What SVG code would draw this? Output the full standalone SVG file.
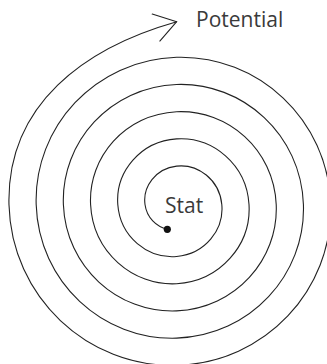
<svg xmlns="http://www.w3.org/2000/svg" width="327" height="364" viewBox="0 0 327 364">
  <style>
    .lbl { font-family: "Open Sans", "Noto Sans", "DejaVu Sans", sans-serif; font-size: 21px; fill: #3a3a3a; }
    .line { fill: none; stroke: #222; stroke-width: 1.1; stroke-linecap: round; stroke-linejoin: round; }
  </style>
  <defs>
    <marker id="arrow" markerUnits="userSpaceOnUse" viewBox="-24 -16 26 32" refX="0" refY="0" markerWidth="26" markerHeight="32" orient="auto" overflow="visible">
      <path d="M -21.5,-14 L 0,0 L -21.5,14" fill="none" stroke="#222" stroke-width="1.1" stroke-linecap="round" stroke-linejoin="round"/>
    </marker>
  </defs>
  <rect width="327" height="364" fill="#ffffff"/>
  <g id="connectors">
    <path class="line" marker-end="url(#arrow)" d="M167.34,229.17
      C156.43,227.0 146.805,217.669 145,204.5
      C142.609,187.047 155.391,168.489 176.6,166.098
      C197.809,163.707 219.412,179.534 221.803,204.5
      C224.194,229.466 205.322,254.114 176.6,256.505
      C147.878,258.896 120.185,236.979 117.794,204.5
      C115.403,172.021 140.365,141.283 176.6,138.892
      C212.835,136.501 246.619,164.508 249.01,204.5
      C251.401,244.492 220.348,281.32 176.6,283.711
      C132.852,286.102 92.978,252.005 90.587,204.5
      C88.196,156.995 125.339,114.077 176.6,111.686
      C227.861,109.295 273.825,149.482 276.216,204.5
      C278.607,259.518 235.375,308.527 176.6,310.918
      C117.825,313.309 65.772,267.031 63.381,204.5
      C60.99,141.969 110.312,86.87 176.6,84.479
      C242.888,82.088 301.031,134.456 303.422,204.5
      C305.813,274.544 250.401,335.733 176.6,338.124
      C102.799,340.515 38.565,282.057 36.174,204.5
      C33.783,126.943 95.286,59.664 176.6,57.273
      C257.914,54.882 328.238,119.43 330.629,204.5
      C333.02,289.57 265.426,362.939 176.6,365.33
      C87.774,367.721 11.359,297.083 8.968,204.5
      C6.6,104 85.3,47.5 176.7,21.7"/>
  </g>
  <g id="start">
    <circle cx="167.3" cy="229.3" r="3.6" fill="#111"/>
    <text class="lbl" x="165" y="213.3">Stat</text>
  </g>
  <g id="potential">
    <text class="lbl" x="196" y="26.7">Potential</text>
  </g>
</svg>
